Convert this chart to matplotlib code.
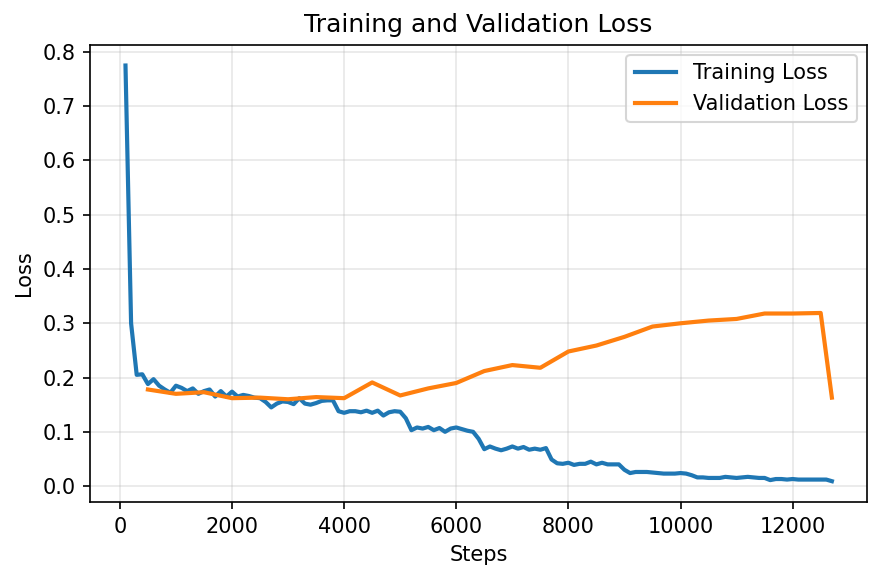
import matplotlib
matplotlib.use('Agg')
import matplotlib.pyplot as plt

train_steps = list(range(100, 12800, 100))
train_loss = [
    0.775, 0.300, 0.205, 0.206, 0.188, 0.197, 0.185, 0.178, 0.172, 0.185,
    0.181, 0.175, 0.180, 0.170, 0.175, 0.178, 0.165, 0.175, 0.165, 0.174,
    0.165, 0.168, 0.166, 0.163, 0.162, 0.155, 0.145, 0.152, 0.156, 0.155,
    0.151, 0.162, 0.152, 0.150, 0.153, 0.157, 0.158, 0.158, 0.138, 0.135,
    0.138, 0.138, 0.136, 0.139, 0.135, 0.139, 0.130, 0.136, 0.138, 0.137,
    0.125, 0.103, 0.108, 0.106, 0.109, 0.103, 0.107, 0.100, 0.106, 0.108,
    0.105, 0.102, 0.100, 0.087, 0.068, 0.073, 0.069, 0.066, 0.069, 0.073,
    0.069, 0.072, 0.067, 0.069, 0.067, 0.070, 0.049, 0.042, 0.041, 0.043,
    0.039, 0.041, 0.041, 0.045, 0.040, 0.043, 0.040, 0.040, 0.040, 0.030,
    0.024, 0.026, 0.026, 0.026, 0.025, 0.024, 0.023, 0.023, 0.023, 0.024,
    0.023, 0.020, 0.016, 0.016, 0.015, 0.015, 0.015, 0.017, 0.016, 0.015,
    0.016, 0.017, 0.016, 0.015, 0.015, 0.011, 0.013, 0.013, 0.012, 0.013,
    0.012, 0.012, 0.012, 0.012, 0.012, 0.012, 0.009,
]
val_steps = list(range(500, 13000, 500)) + [12700]
val_loss = [
    0.178, 0.170, 0.173, 0.162, 0.163, 0.160, 0.164, 0.162, 0.191, 0.167,
    0.180, 0.190, 0.212, 0.223, 0.218, 0.248, 0.259, 0.275, 0.294, 0.300,
    0.305, 0.308, 0.318, 0.318, 0.319, 0.163,
]

fig, ax = plt.subplots(figsize=(884/150, 581/150), dpi=150)
ax.plot(train_steps, train_loss, lw=2, label='Training Loss')
ax.plot(val_steps, val_loss, lw=2, label='Validation Loss')
ax.set_xlabel('Steps')
ax.set_ylabel('Loss')
ax.set_title('Training and Validation Loss')
ax.grid(True, alpha=0.3)
ax.legend()
fig.subplots_adjust(left=0.102, right=0.981, top=0.923, bottom=0.136)
fig.savefig('out.png', dpi=150)
